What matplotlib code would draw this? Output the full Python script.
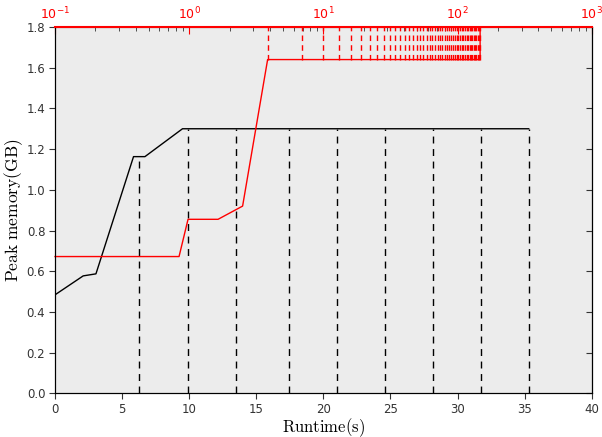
import numpy as np
import matplotlib
matplotlib.use("Agg")
import matplotlib.pyplot as plt

plt.rcParams['mathtext.fontset'] = 'cm'

# black series: linear runtime (bottom axis)
black_x = [0.0, 2.1, 3.05, 5.85, 6.7, 9.5, 35.3]
black_y = [0.484, 0.577, 0.587, 1.163, 1.163, 1.30, 1.30]
black_marks = [6.24, 9.89, 13.49, 17.41, 20.99, 24.56, 28.16, 31.73, 35.31]

# red series: log runtime (top axis)
red_x = [0.1, 0.84, 0.98, 1.64, 2.5, 3.84, 147.2, 147.2, 575.0]
red_y = [0.672, 0.672, 0.855, 0.855, 0.92, 1.64, 1.64, 1.80, 1.80]
red_marks = [3.84, 6.9, 10.0, 13.1, 16.1, 19.1, 22.1, 25.2, 28.2, 31.3, 34.4,
             37.4, 40.5, 43.5, 46.6, 49.6, 52.7, 55.7, 58.8, 61.8, 64.9, 67.9,
             71.0, 74.0, 77.1, 80.1, 83.2, 86.2, 89.3, 92.3, 95.4, 98.4, 101.5,
             104.5, 107.6, 110.6, 113.7, 116.7, 119.8, 122.8, 125.9, 128.9,
             132.0, 135.0, 138.1, 141.1, 144.2, 147.2]

fig = plt.figure(figsize=(6.02, 4.37), dpi=100)
ax = fig.add_axes([0.0914, 0.1, 0.8916, 0.8382])
ax.set_facecolor('#ececec')

ax.plot(black_x, black_y, color='black', lw=1)
for xm in black_marks:
    ym = np.interp(xm, black_x, black_y)
    ax.plot([xm, xm], [0, ym], color='black', lw=1, ls=(0, (5, 4)))

ax.set_xlim(0, 40)
ax.set_ylim(0, 1.8)
ax.set_xticks(np.arange(0, 41, 5))
ax.set_yticks(np.arange(0, 1.81, 0.2))
ax.set_yticklabels(['%.1f' % v for v in np.arange(0, 1.81, 0.2)])
ax.tick_params(direction='out', labelsize=8.5, length=4, labelcolor='#333333',
               color='#333333', pad=3)
ax.set_xlabel(r'$\mathrm{Runtime(s)}$', fontsize=12, labelpad=0)
ax.set_ylabel(r'$\mathrm{Peak\ memory(GB)}$', fontsize=12.5, labelpad=1)
ax.spines['right'].set_color('#555555')

# inward ticks on the right side, no labels
sec = ax.secondary_yaxis('right')
sec.set_yticks(np.arange(0, 1.81, 0.2))
sec.tick_params(direction='in', length=4, labelright=False, color='#333333')
sec.spines['right'].set_color('#555555')

ax2 = ax.twiny()
ax2.set_xscale('log')
ax2.set_xlim(0.1, 1000)
ax2.plot(red_x, red_y, color='red', lw=1, clip_on=False)
for xm in red_marks:
    ax2.plot([xm, xm], [1.64, 1.80], color='red', lw=1, ls=(0, (4, 3)))
ax2.set_ylim(0, 1.8)
ax2.spines['top'].set_color('red')
ax2.spines['top'].set_linewidth(1.5)
ax2.tick_params(axis='x', which='major', direction='in', colors='red',
                labelsize=9, length=5)
ax2.tick_params(axis='x', which='minor', direction='in', color='#333333',
                length=3)

fig.savefig('out.png', dpi=100)
